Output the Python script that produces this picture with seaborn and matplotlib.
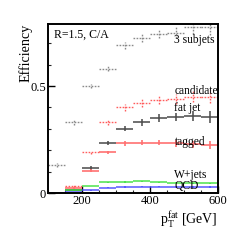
import numpy as np
import matplotlib
matplotlib.use("Agg")
import matplotlib.pyplot as plt
import seaborn as sns

# ---- data ----
bin_centers = [125, 175, 225, 275, 325, 375, 425, 475, 525, 575]
bin_halfwidth = 25

subjets3 = [0.13, 0.33, 0.50, 0.58, 0.69, 0.726, 0.745, 0.75, 0.775, 0.775]
subjets3_err = [0.008, 0.01, 0.01, 0.012, 0.015, 0.018, 0.02, 0.025, 0.03, 0.035]

candidate = [np.nan, 0.033, 0.19, 0.33, 0.40, 0.42, 0.435, 0.44, 0.45, 0.45]
candidate_err = [0.0, 0.005, 0.008, 0.012, 0.015, 0.018, 0.02, 0.022, 0.025, 0.03]

fatjet = [np.nan, 0.012, 0.117, 0.235, 0.30, 0.33, 0.352, 0.355, 0.36, 0.355]
fatjet_err = [0.0, 0.004, 0.008, 0.01, 0.012, 0.015, 0.018, 0.02, 0.025, 0.03]

tagged = [np.nan, 0.022, 0.105, 0.19, 0.232, 0.236, 0.236, 0.232, 0.228, 0.225]
tagged_err = [0.0, 0.004, 0.006, 0.008, 0.01, 0.012, 0.013, 0.015, 0.017, 0.02]

wjets = [np.nan, 0.013, 0.033, 0.05, 0.052, 0.055, 0.05, 0.048, 0.045, 0.045]
wjets_err = [0.0, 0.002, 0.002, 0.003, 0.003, 0.003, 0.003, 0.003, 0.003, 0.004]

qcd = [0.0, 0.003, 0.013, 0.025, 0.028, 0.03, 0.03, 0.028, 0.027, 0.03]
qcd_err = [0.0, 0.001, 0.002, 0.003, 0.003, 0.003, 0.003, 0.003, 0.004, 0.005]

labels = ["3 subjets", "candidate", "fat jet", "tagged", "W+jets", "QCD"]
label_y = [0.715, 0.475, 0.397, 0.240, 0.086, 0.034]

# ---- style ----
sns.set_theme(style="ticks")
plt.rcParams["font.family"] = ["Liberation Serif", "DejaVu Serif"]
plt.rcParams["mathtext.fontset"] = "custom"
plt.rcParams["mathtext.rm"] = "Liberation Serif"
plt.rcParams["mathtext.it"] = "Liberation Serif:italic"

fig = plt.figure(figsize=(2.42, 2.42), dpi=100)
ax = fig.add_axes([48 / 242, 1 - 193 / 242, 170 / 242, 169 / 242])

series = [
    (subjets3, subjets3_err, "#8a8a8a", "dotted", 1.0),
    (candidate, candidate_err, "#ff5c5c", "dotted", 1.0),
    (fatjet, fatjet_err, "#4a4a4a", "solid", 1.3),
    (tagged, tagged_err, "#ff7070", "solid", 1.4),
    (wjets, wjets_err, "#3ee03e", "solid", 1.2),
    (qcd, qcd_err, "#4a4aff", "solid", 1.2),
]

for vals, errs, color, ls, lw in series:
    eb = ax.errorbar(bin_centers, vals, xerr=bin_halfwidth, yerr=errs,
                     fmt="none", ecolor=color, elinewidth=lw, capsize=0)
    for coll in eb[2]:
        if ls == "dotted":
            coll.set_linestyle((0, (1.2, 1.0)))
        coll.set_alpha(0.85 if ls == "solid" else 1.0)

ax.set_xlim(100, 600)
ax.set_ylim(0, 0.79)
ax.set_xticks([200, 400, 600])
ax.set_xticks(np.arange(100, 601, 50), minor=True)
ax.set_yticks([0, 0.5])
ax.set_yticklabels(["0", "0.5"])
ax.set_yticks(np.arange(0, 0.79, 0.1), minor=True)
ax.tick_params(axis="both", which="major", direction="in", length=5, width=1.0,
               labelsize=9, pad=1.5, color="black", labelcolor="black")
ax.tick_params(axis="both", which="minor", direction="in", length=2.5, width=0.8)
for sp in ax.spines.values():
    sp.set_visible(True)
    sp.set_linewidth(1.4)
    sp.set_color("black")

for txt, y in zip(labels, label_y):
    ax.text(472, y, txt, fontsize=8.3, va="center", ha="left", color="black")

ax.text(0.035, 0.935, "R=1.5, C/A", transform=ax.transAxes, fontsize=8.5,
        va="center", ha="left", color="black")

fig.text(26 / 242, 1 - 24 / 242, "Efficiency", fontsize=10.2, rotation=90,
         ha="center", va="top", color="black")
ax.set_xlabel(r"p$_{\mathrm{T}}^{\mathrm{fat}}$ [GeV]", fontsize=10,
              color="black", loc="right", labelpad=2)

fig.savefig("out.png", dpi=100)
